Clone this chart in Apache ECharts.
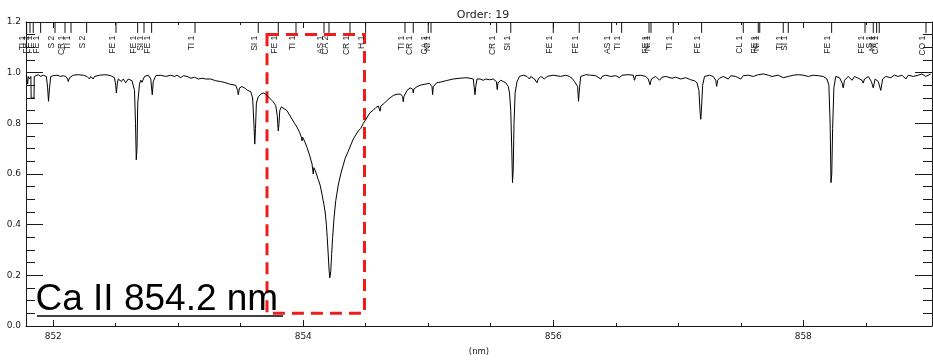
<!DOCTYPE html>
<html>
<head>
<meta charset="utf-8">
<script src="https://cdn.jsdelivr.net/npm/echarts@6/dist/echarts.min.js"></script>
<style>
html,body{margin:0;padding:0;background:#fff;}
#chart{width:933px;height:361px;}
</style>
</head>
<body>
<div id="chart"></div>
<script>
// ---- data ----
const chartTitle = 'Order: 19';
const xAxisName = '(nm)';
const annotationText = 'Ca II 854.2 nm';
const xRange = [851.782, 859.03];
const yRange = [0, 1.2];
const xMajorTicks = [852, 854, 856, 858];
const xMinorTicks = [852.5, 853, 853.5, 854.5, 855, 855.5, 856.5, 857, 857.5, 858.5];
const highlightBox = [[853.71, 1.151], [854.49, 0.05]];

// spectrum: [wavelength (nm), normalised flux]
const spectrumPoints = [
[851.785,0.990],[851.795,0.955],[851.80,0.985],[851.81,0.975],[851.821,0.985],[851.823,0.900],[851.846,0.900],[851.848,0.985],
[851.86,0.990],[851.88,0.992],[851.90,0.985],[851.92,0.990],[851.945,0.985],[851.955,0.94],[851.962,0.887],[851.970,0.94],
[851.98,0.985],[852.00,0.988],[852.03,0.990],[852.06,0.985],[852.08,0.988],[852.10,0.985],[852.115,0.975],[852.12,0.965],
[852.13,0.980],[852.16,0.990],[852.20,0.992],[852.24,0.990],[852.27,0.985],[852.29,0.975],[852.30,0.985],[852.32,0.975],
[852.33,0.985],[852.37,0.990],[852.42,0.992],[852.46,0.988],[852.49,0.980],[852.50,0.950],[852.505,0.920],[852.512,0.955],
[852.52,0.975],[852.545,0.965],[852.56,0.975],[852.58,0.960],[852.60,0.975],[852.63,0.968],[852.65,0.930],[852.658,0.80],
[852.664,0.656],[852.670,0.70],[852.676,0.88],[852.69,0.955],[852.70,0.970],[852.71,0.962],[852.73,0.985],[852.76,0.990],
[852.78,0.975],[852.792,0.913],[852.80,0.965],[852.82,0.988],[852.86,0.990],[852.90,0.985],[852.94,0.990],[852.97,0.985],
[852.99,0.990],[853.02,0.980],[853.04,0.988],[853.07,0.985],[853.10,0.978],[853.13,0.982],[853.16,0.975],[853.175,0.968],
[853.19,0.978],[853.22,0.975],[853.26,0.975],[853.30,0.968],[853.34,0.965],[853.38,0.960],[853.41,0.955],[853.46,0.950],
[853.475,0.930],[853.48,0.913],[853.49,0.940],[853.51,0.945],[853.53,0.940],[853.555,0.930],[853.565,0.925],[853.58,0.925],
[853.595,0.90],[853.605,0.80],[853.612,0.718],[853.618,0.78],[853.625,0.880],[853.64,0.905],[853.66,0.915],[853.68,0.920],
[853.70,0.915],[853.72,0.905],[853.74,0.895],[853.76,0.885],[853.78,0.870],[853.792,0.830],[853.80,0.770],[853.806,0.80],
[853.812,0.850],[853.825,0.865],[853.84,0.860],[853.87,0.850],[853.90,0.825],[853.93,0.800],[853.95,0.785],[853.97,0.765],
[853.985,0.745],[853.99,0.731],[853.995,0.745],[854.01,0.730],[854.03,0.705],[854.05,0.675],[854.07,0.640],[854.08,0.600],
[854.085,0.625],[854.10,0.608],[854.12,0.578],[854.135,0.556],[854.15,0.520],[854.165,0.480],[854.175,0.450],[854.185,0.400],
[854.192,0.348],[854.20,0.280],[854.206,0.225],[854.212,0.190],[854.216,0.185],[854.220,0.215],[854.227,0.283],[854.235,0.350],
[854.246,0.426],[854.26,0.495],[854.28,0.556],[854.30,0.600],[854.334,0.660],[854.36,0.690],[854.40,0.738],[854.44,0.770],
[854.46,0.780],[854.48,0.800],[854.50,0.815],[854.534,0.842],[854.56,0.852],[854.58,0.862],[854.60,0.868],[854.61,0.868],
[854.615,0.848],[854.62,0.868],[854.65,0.880],[854.68,0.895],[854.72,0.910],[854.75,0.915],[854.78,0.915],[854.795,0.905],
[854.80,0.885],[854.805,0.905],[854.83,0.930],[854.855,0.940],[854.875,0.935],[854.88,0.920],[854.885,0.935],[854.91,0.945],
[854.947,0.952],[854.98,0.955],[855.01,0.958],[855.03,0.945],[855.035,0.913],[855.04,0.945],[855.067,0.960],[855.10,0.963],
[855.147,0.969],[855.20,0.975],[855.254,0.978],[855.30,0.980],[855.334,0.978],[855.36,0.975],[855.368,0.940],[855.374,0.913],
[855.380,0.945],[855.39,0.975],[855.414,0.975],[855.44,0.970],[855.46,0.975],[855.49,0.972],[855.52,0.975],[855.545,0.965],
[855.552,0.933],[855.558,0.960],[855.58,0.970],[855.60,0.965],[855.62,0.960],[855.635,0.955],[855.64,0.945],[855.65,0.920],
[855.66,0.85],[855.668,0.70],[855.674,0.566],[855.680,0.62],[855.686,0.80],[855.695,0.92],[855.71,0.965],[855.73,0.985],
[855.76,0.990],[855.79,0.985],[855.81,0.975],[855.82,0.985],[855.85,0.975],[855.87,0.960],[855.88,0.975],[855.90,0.985],
[855.93,0.975],[855.95,0.985],[856.00,0.990],[856.06,0.985],[856.10,0.990],[856.13,0.985],[856.15,0.978],[856.17,0.965],
[856.18,0.970],[856.195,0.945],[856.202,0.887],[856.21,0.940],[856.22,0.985],[856.26,0.992],[856.30,0.990],[856.34,0.988],
[856.38,0.975],[856.39,0.985],[856.42,0.990],[856.46,0.985],[856.50,0.988],[856.53,0.980],[856.55,0.990],[856.60,0.992],
[856.64,0.990],[856.65,0.970],[856.66,0.988],[856.70,0.990],[856.74,0.985],[856.76,0.975],[856.774,0.952],[856.785,0.975],
[856.82,0.985],[856.85,0.970],[856.87,0.982],[856.90,0.985],[856.95,0.978],[856.98,0.982],[857.02,0.975],[857.06,0.980],
[857.10,0.972],[857.13,0.968],[857.15,0.960],[857.165,0.930],[857.174,0.85],[857.180,0.816],[857.186,0.86],[857.195,0.950],
[857.21,0.985],[857.25,0.990],[857.28,0.985],[857.30,0.970],[857.307,0.946],[857.315,0.970],[857.33,0.978],[857.36,0.985],
[857.40,0.975],[857.42,0.988],[857.46,0.985],[857.50,0.975],[857.52,0.988],[857.56,0.990],[857.60,0.985],[857.64,0.992],
[857.68,0.995],[857.72,0.990],[857.75,0.985],[857.80,0.990],[857.84,0.980],[857.88,0.985],[857.92,0.990],[857.96,0.992],
[858.00,0.990],[858.04,0.985],[858.08,0.990],[858.12,0.988],[858.16,0.985],[858.19,0.975],[858.205,0.950],[858.215,0.80],
[858.222,0.566],[858.228,0.60],[858.235,0.78],[858.245,0.940],[858.26,0.985],[858.29,0.980],[858.31,0.960],[858.32,0.940],
[858.33,0.970],[858.36,0.985],[858.39,0.970],[858.41,0.985],[858.44,0.978],[858.47,0.970],[858.48,0.959],[858.49,0.975],
[858.52,0.985],[858.545,0.965],[858.56,0.940],[858.575,0.975],[858.60,0.965],[858.62,0.930],[858.635,0.975],[858.66,0.985],
[858.70,0.980],[858.73,0.990],[858.76,0.985],[858.79,0.990],[858.82,0.975],[858.84,0.990],[858.88,0.985],[858.92,0.990],
[858.95,0.995],[858.98,0.985],[859.02,0.995]
];

// line identifications along the top axis
const lineIdWave = [851.787,851.814,851.84,851.899,852.014,852.094,852.142,852.267,852.502,852.675,852.726,852.787,853.134,
853.64,853.80,853.942,854.166,854.206,854.374,854.499,854.814,854.88,855.00,855.022,855.547,855.66,856.00,856.208,856.467,
856.547,856.766,856.782,856.96,857.187,857.52,857.64,857.652,857.84,857.88,858.227,858.494,858.56,858.587,858.608,858.982];
const lineIdLabel = ['TI 1','FE 1','FE 1','FE 1','S 2','CR 1','TI 1','S 2','FE 1','FE 1','SI 1','FE 1','TI 1',
'SI 1','FE 1','TI 1','AS 1','CA 2','CR 1','H 1','TI 1','CR 1','CA 1','NI 1','CR 1','SI 1','FE 1','FE 1','AS 1',
'TI 1','FE 1','NI 1','TI 1','FE 1','CL 1','FE 1','NI 1','TI 1','SI 1','FE 1','FE 1','S 1','NI 1','CA 1','CO 1'];

// ---- chart ----
const chart = echarts.init(document.getElementById('chart'), null, {renderer:'canvas'});
const axisFont = 'DejaVu Sans';
const ink = '#1a1a1a';

function xAxisDef(pos, ticks, len, showLine, showLabel, name){
  return {
    type:'value', position:pos, min:xRange[0], max:xRange[1],
    axisLine:{show:showLine, onZero:false, lineStyle:{color:ink, width:1}},
    axisTick:{show:true, inside:true, length:len, customValues:ticks, lineStyle:{color:ink, width:1}},
    axisLabel:{show:showLabel, customValues:ticks, fontFamily:axisFont, fontSize:9, color:ink, margin:6},
    splitLine:{show:false},
    name:name||'', nameLocation:'middle', nameGap:21,
    nameTextStyle:{fontFamily:axisFont, fontSize:8.5, color:ink}
  };
}
function yAxisDef(pos, showLabel){
  return {
    type:'value', position:pos, min:yRange[0], max:yRange[1], interval:0.2,
    axisLine:{show:true, onZero:false, lineStyle:{color:ink, width:1}},
    axisTick:{show:true, inside:true, length:17, lineStyle:{color:ink, width:1}},
    minorTick:{show:true, splitNumber:4, length:9, lineStyle:{color:ink, width:1}},
    axisLabel:{show:showLabel, fontFamily:axisFont, fontSize:9, color:ink, margin:5,
      formatter:v=>v.toFixed(1)},
    splitLine:{show:false}
  };
}

const option = {
  animation:false,
  backgroundColor:'#fff',
  title:{text:chartTitle, left:478, top:5, textAlign:'center',
    textStyle:{fontFamily:axisFont, fontSize:11, fontWeight:'normal', color:'#222'}},
  grid:{left:26, right:1, top:22, bottom:32, containLabel:false},
  xAxis:[
    xAxisDef('bottom', xMajorTicks, 6, true, true, xAxisName),
    xAxisDef('bottom', xMinorTicks, 3, false, false),
    xAxisDef('top', xMajorTicks, 6, true, false),
    xAxisDef('top', xMinorTicks, 3, false, false)
  ],
  yAxis:[ yAxisDef('left', true), yAxisDef('right', false) ],
  series:[
    {
      type:'line', xAxisIndex:0, yAxisIndex:0, data:spectrumPoints,
      showSymbol:false, symbol:'none', smooth:false,
      lineStyle:{color:'#000', width:1}, z:3
    },
    {
      type:'custom', xAxisIndex:0, yAxisIndex:0,
      data:lineIdWave.map((w,i)=>[w,i]),
      renderItem:function(params, api){
        const w = api.value(0);
        const lab = lineIdLabel[api.value(1)];
        const p1 = api.coord([w, 1.2]);
        const p2 = api.coord([w, 1.157]);
        const p3 = api.coord([w, 1.146]);
        return {type:'group', children:[
          {type:'line', shape:{x1:p1[0], y1:p1[1], x2:p2[0], y2:p2[1]},
            style:{stroke:'#111', lineWidth:1}},
          {type:'text', x:p3[0]+1, y:p3[1], rotation:Math.PI/2,
            style:{text:lab, fontFamily:'Liberation Sans', fontSize:8.5, fill:'#222',
              align:'right', verticalAlign:'bottom'}}
        ]};
      },
      z:4, silent:true
    },
    {
      type:'line', xAxisIndex:0, yAxisIndex:0, data:[], z:10, silent:true,
      markArea:{
        silent:true,
        itemStyle:{color:'rgba(0,0,0,0)', borderColor:'#f01c1c', borderWidth:3, borderType:[12,7]},
        data:[[{coord:highlightBox[0]}, {coord:highlightBox[1]}]]
      }
    }
  ],
  graphic:[
    {type:'text', left:35.5, top:281, z:20,
      style:{text:annotationText, fontFamily:'Liberation Sans', fontSize:37, fill:'#000'}},
    {type:'line', z:20, shape:{x1:37, y1:316, x2:283, y2:316}, style:{stroke:'#000', lineWidth:1.5}}
  ]
};
chart.setOption(option);
</script>
</body>
</html>
